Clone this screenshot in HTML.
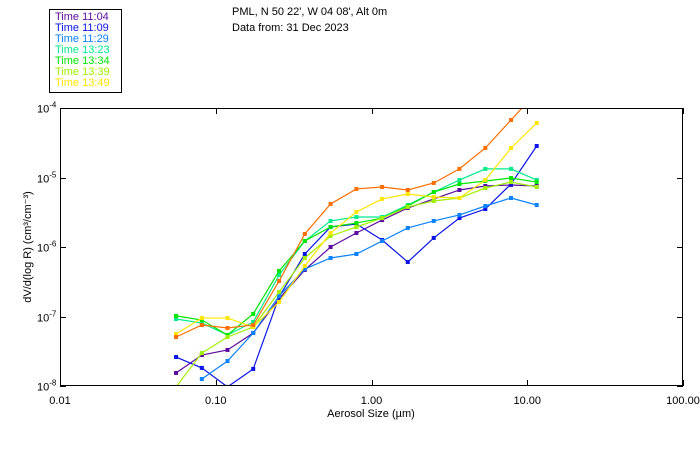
<!DOCTYPE html>
<html><head><meta charset="utf-8"><style>
body{margin:0;background:#fff;width:700px;height:450px;overflow:hidden}
text{font-family:"Liberation Sans",sans-serif;font-size:11px}
</style></head><body>
<svg id="chart" width="700" height="450" xmlns="http://www.w3.org/2000/svg">
<text x="232" y="15">PML, N 50 22', W 04 08', Alt 0m</text>
<text x="232" y="31">Data from: 31 Dec 2023</text>
<rect x="49.5" y="9.5" width="72" height="83" fill="none" stroke="#000"/>
<g id="legend"></g>
<clipPath id="clip"><rect x="60" y="108" width="623" height="278"/></clipPath>
<g id="series" clip-path="url(#clip)"></g>
<rect x="60.5" y="108.5" width="622" height="277" fill="none" stroke="#000"/>
<g id="axes"></g>
<text x="371" y="417" text-anchor="middle">Aerosol Size (µm)</text>
<text transform="translate(31,247) rotate(-90)" text-anchor="middle">dV/d(log R) (cm³/cm⁻³)</text>
</svg>
<script>
const sizes=[0.0556,0.0814,0.119,0.174,0.255,0.373,0.546,0.800,1.17,1.71,2.51,3.67,5.38,7.87,11.5];
const labels=["Time 11:04","Time 11:09","Time 11:29","Time 13:23","Time 13:34","Time 13:39","Time 13:49",""];
const colors=["#5c0aa0","#0a14e6","#0a82ff","#00eb8c","#00e600","#a0f000","#ffe600","#ff6e00"];
const s1104=[1.54e-8,2.79e-8,3.30e-8,5.79e-8,1.79e-7,4.67e-7,1.0e-6,1.59e-6,2.44e-6,3.64e-6,4.91e-6,6.61e-6,7.55e-6,7.80e-6,7.55e-6];
const s1109=[2.61e-8,1.82e-8,9.7e-9,1.76e-8,1.91e-7,7.93e-7,1.94e-6,2.14e-6,1.26e-6,6.08e-7,1.35e-6,2.61e-6,3.52e-6,8.06e-6,2.84e-5];
const s1129=[null,1.26e-8,2.29e-8,5.79e-8,1.97e-7,4.82e-7,6.95e-7,7.93e-7,1.22e-6,1.88e-6,2.37e-6,2.89e-6,3.89e-6,5.07e-6,4.02e-6];
const s1323=[9.2e-8,8.05e-8,5.42e-8,8.34e-8,3.95e-7,1.22e-6,2.37e-6,2.70e-6,2.70e-6,4.02e-6,6.18e-6,9.2e-6,1.33e-5,1.33e-5,9.2e-6];
const s1334=[1.02e-7,8.9e-8,5.42e-8,1.09e-7,4.52e-7,1.22e-6,1.94e-6,2.21e-6,2.61e-6,3.89e-6,6.18e-6,8.06e-6,8.9e-6,9.84e-6,8.6e-6];
const s1339=[9.7e-9,2.98e-8,5.07e-8,7.06e-8,2.25e-7,6.95e-7,1.44e-6,1.94e-6,2.61e-6,3.77e-6,4.59e-6,5.07e-6,7.06e-6,8.6e-6,7.30e-6];
const s1349=[5.6e-8,9.5e-8,9.5e-8,7.06e-8,1.62e-7,5.33e-7,1.59e-6,3.19e-6,4.91e-6,5.79e-6,5.24e-6,5.07e-6,9.2e-6,2.66e-5,6.08e-5];
const sExtra=[5.07e-8,7.55e-8,6.84e-8,7.55e-8,3.24e-7,1.54e-6,4.16e-6,6.84e-6,7.30e-6,6.61e-6,8.34e-6,1.33e-5,2.66e-5,6.72e-5,1.7e-4];
const xTicks=[0.01,0.1,1,10,100];
const xTickLabels=["0.01","0.10","1.00","10.00","100.00"];
const yTicks=[1e-8,1e-7,1e-6,1e-5,1e-4];
const yTickExp=["-8","-7","-6","-5","-4"];
const allSeries=[s1104,s1109,s1129,s1323,s1334,s1339,s1349,sExtra];
const NS="http://www.w3.org/2000/svg";
const X0=60,X1=683,Y0=386,Y1=108;
function xs(v){return X0+(Math.log10(v)+2)/4*(X1-X0);}
function ys(v){return Y0-(Math.log10(v)+8)/4*(Y0-Y1);}
function mk(t,a){const e=document.createElementNS(NS,t);for(const k in a)e.setAttribute(k,a[k]);return e;}
const ax=document.getElementById('axes');
xTicks.forEach((t,i)=>{const x=Math.round(xs(t))+0.5;
 let l=mk('line',{x1:x,x2:x,y1:Y0,y2:Y0-6,stroke:'#000'});
 
 ax.appendChild(l);
 let l2=mk('line',{x1:x,x2:x,y1:Y1,y2:Y1+6,stroke:'#000'});
 
 ax.appendChild(l2);
 let tx=mk('text',{x:xs(t),y:404,'text-anchor':'middle'});tx.textContent=xTickLabels[i];
 
 ax.appendChild(tx);});
yTicks.forEach((t,i)=>{const y=Math.round(ys(t))+0.5;
 let l=mk('line',{x1:X0,x2:X0+6,y1:y,y2:y,stroke:'#000'});
 
 ax.appendChild(l);
 let l2=mk('line',{x1:X1-6,x2:X1,y1:y,y2:y,stroke:'#000'});
 
 ax.appendChild(l2);
 let tx=mk('text',{x:37,y:y+4});tx.innerHTML='10<tspan dy="-5" font-size="8">'+yTickExp[i]+'</tspan>';
 
 ax.appendChild(tx);});
const sg=document.getElementById('series');
allSeries.forEach((s,k)=>{const g=mk('g',{});
 
 
 let pts=[];s.forEach((v,i)=>{if(v!=null)pts.push([xs(sizes[i]),ys(v)]);});
 const p=mk('polyline',{points:pts.map(q=>q.join(',')).join(' '),fill:'none',stroke:colors[k],'stroke-width':1.2});
 
 g.appendChild(p);
 pts.forEach(q=>{const r=mk('rect',{x:q[0]-2,y:q[1]-2,width:4,height:4,fill:colors[k]});
  
  g.appendChild(r);});
 sg.appendChild(g);});
const lg=document.getElementById('legend');
labels.forEach((t,k)=>{if(!t)return;const tx=mk('text',{x:55,y:20+k*11,fill:colors[k]});tx.textContent=t;
 
 lg.appendChild(tx);});
</script>
</body></html>
